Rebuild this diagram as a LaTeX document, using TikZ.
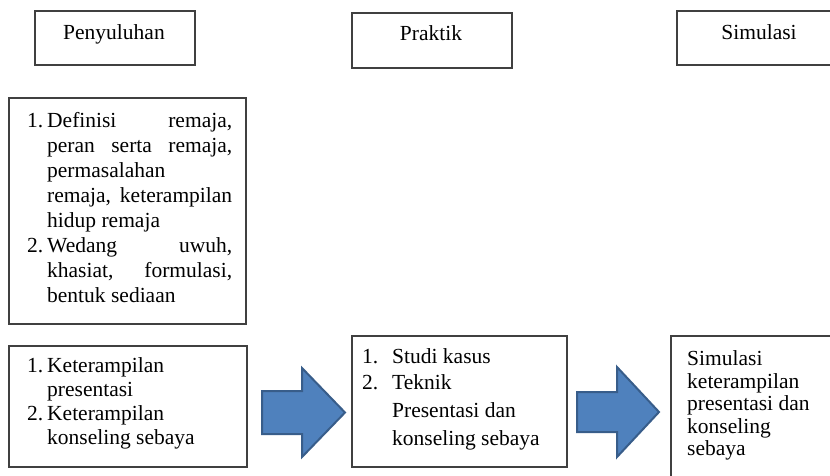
\documentclass[tikz,border=0pt]{standalone}
\usepackage{fontspec}
\setmainfont{Liberation Serif}
\definecolor{arrfill}{HTML}{4F81BD}
\definecolor{arrline}{HTML}{385D8A}
\definecolor{boxline}{HTML}{404040}
\begin{document}
\begin{tikzpicture}[x=1pt,y=-1pt,
  box/.style={draw=boxline, line width=1.2pt, inner sep=0pt, fill=none},
  txt/.style={inner sep=0pt, anchor=base west, font=\fontsize{21.5}{25}\selectfont},
  head/.style={inner sep=0pt, anchor=base, font=\fontsize{21.5}{25}\selectfont},
  blockarrow/.style={fill=arrfill, draw=arrline, line width=2pt, line join=miter}]
\useasboundingbox (0,0) rectangle (830,475);
\clip (0,0) rectangle (830,475);
\fill[white] (0,0) rectangle (830,475);
% top boxes
\node[box, minimum width=160pt, minimum height=54pt] (pen) at (115,38) {};
\node[box, minimum width=160pt, minimum height=55pt] (pra) at (432,40.5) {};
\node[box, minimum width=170pt, minimum height=54pt] (sim) at (762,38) {};
\node[head] (penT) at (114,39) {Penyuluhan};
\node[head] (praT) at (431,40) {Praktik};
\node[head] (simT) at (759,39) {Simulasi};
% big box
\node[box, minimum width=237pt, minimum height=226pt] (big) at (127.5,211) {};
\node[txt] (n1) at (27,127) {1.};
\node[txt] (l1) at (47,127) {\makebox[185pt][s]{Definisi remaja,}};
\node[txt] (l2) at (47,152) {\makebox[185pt][s]{peran serta remaja,}};
\node[txt] (l3) at (47,177) {permasalahan};
\node[txt] (l4) at (47,202) {\makebox[185pt][s]{remaja, keterampilan}};
\node[txt] (l5) at (47,227) {hidup remaja};
\node[txt] (n2) at (27,252) {2.};
\node[txt] (l6) at (47,252) {\makebox[185pt][s]{Wedang uwuh,}};
\node[txt] (l7) at (47,277) {\makebox[185pt][s]{khasiat, formulasi,}};
\node[txt] (l8) at (47,302) {bentuk sediaan};
% bottom left box
\node[box, minimum width=238pt, minimum height=121pt] (bl) at (128,406.5) {};
\node[txt] (m1) at (27,372) {1.};
\node[txt] (k1) at (47,372) {Keterampilan};
\node[txt] (k2) at (47,396) {presentasi};
\node[txt] (m2) at (27,420) {2.};
\node[txt] (k3) at (47,420) {Keterampilan};
\node[txt] (k4) at (47,444) {konseling sebaya};
% middle box
\node[box, minimum width=215pt, minimum height=131pt] (mid) at (459.5,401.5) {};
\node[txt] (p1n) at (362,363) {1.};
\node[txt] (p1) at (392,363) {Studi kasus};
\node[txt] (p2n) at (362,389) {2.};
\node[txt] (p2) at (392,389) {Teknik};
\node[txt] (p3) at (392,417) {Presentasi dan};
\node[txt] (p4) at (392,445) {konseling sebaya};
% right box
\node[box, minimum width=170pt, minimum height=160pt] (rt) at (756,416) {};
\node[txt] (s1) at (687,365) {Simulasi};
\node[txt] (s2) at (687,388) {keterampilan};
\node[txt] (s3) at (687,410) {presentasi dan};
\node[txt] (s4) at (687,433) {konseling};
\node[txt] (s5) at (687,455) {sebaya};
% block arrows
\draw[blockarrow] (262,391) -- (302,391) -- (302,368) -- (345,412.5) -- (302,457) -- (302,434) -- (262,434) -- cycle;
\draw[blockarrow] (577,392) -- (617,392) -- (617,367) -- (659,412) -- (617,457) -- (617,432) -- (577,432) -- cycle;
\end{tikzpicture}
\end{document}
